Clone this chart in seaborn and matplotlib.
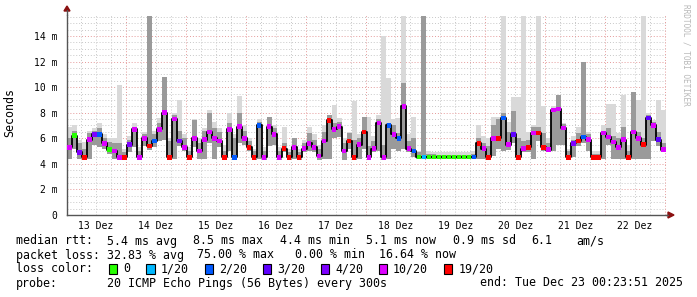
import numpy as np
import pandas as pd
import matplotlib
matplotlib.use("Agg")
import matplotlib.pyplot as plt
import seaborn as sns
from matplotlib.patches import Rectangle

# ---------------- data (2-hour steps, 13 Dez 00:23:51 -> 23 Dez 00:23:51) ----------------
median = [
    5.3, 6.2, 4.9, 4.5, 5.9, 6.3, 6.3, 5.6, 5.1, 5.0,
    4.5, 4.5, 5.5, 6.7, 4.5, 6.0, 5.4, 5.8, 6.7, 8.0,
    4.5, 7.5, 5.8, 5.3, 4.5, 6.0, 5.0, 5.9, 6.5, 6.0,
    5.8, 4.5, 6.7, 4.5, 6.9, 6.0, 5.3, 4.5, 7.0, 4.5,
    6.9, 6.3, 4.5, 5.2, 4.5, 5.3, 4.5, 5.2, 5.6, 5.3,
    4.6, 5.8, 7.4, 6.7, 6.9, 5.0, 5.8, 4.5, 5.5, 6.5,
    4.5, 5.2, 7.2, 4.5, 7.0, 6.3, 6.0, 8.5, 5.2, 5.0,
    4.55, 4.55, 4.55, 4.55, 4.55, 4.55, 4.55, 4.55, 4.55, 4.55,
    4.55, 4.55, 5.6, 5.2, 4.5, 6.0, 6.0, 7.6, 5.5, 6.3,
    4.5, 5.2, 5.3, 6.4, 6.4, 5.3, 5.1, 8.2, 8.3, 6.8,
    4.5, 5.6, 5.8, 6.1, 5.9, 4.5, 4.5, 6.4, 6.1, 5.7,
    5.3, 5.9, 4.5, 6.5, 6.0, 5.5, 7.6, 7.0, 5.9, 5.1,
]
smoke_lo = [
    4.4, 5.2, 4.4, 4.3, 4.4, 5.5, 5.3, 5.2, 4.8, 4.4,
    4.3, 4.3, 4.9, 5.3, 4.3, 5.4, 5.1, 5.3, 5.8, 5.9,
    4.3, 4.4, 5.4, 5.0, 4.3, 5.3, 4.4, 4.4, 5.6, 4.4,
    5.3, 4.3, 5.0, 4.3, 5.6, 5.5, 5.0, 4.3, 4.4, 4.3,
    5.4, 5.5, 4.3, 4.9, 4.3, 4.4, 4.3, 4.9, 5.0, 4.9,
    4.3, 4.4, 4.4, 6.0, 6.1, 4.3, 5.2, 4.3, 4.4, 5.2,
    4.3, 4.9, 5.0, 4.3, 4.4, 5.2, 5.0, 5.2, 4.9, 4.5,
    4.4, 4.4, 4.4, 4.4, 4.4, 4.4, 4.4, 4.4, 4.4, 4.4,
    4.4, 4.4, 4.4, 4.4, 4.3, 4.6, 5.2, 5.0, 5.1, 5.6,
    4.3, 4.9, 4.9, 4.4, 5.8, 5.0, 4.9, 5.0, 5.5, 5.5,
    4.3, 4.5, 5.4, 5.6, 5.0, 4.3, 4.3, 4.4, 5.5, 4.4,
    4.4, 4.4, 4.3, 4.4, 4.4, 4.4, 4.4, 5.8, 5.4, 4.9,
]
smoke_hi = [
    6.0, 6.6, 5.6, 5.2, 6.4, 6.6, 6.8, 6.0, 5.7, 5.6,
    5.6, 4.9, 5.9, 6.9, 5.0, 6.3, 15.6, 6.3, 7.2, 10.8,
    5.8, 7.8, 6.6, 6.0, 5.0, 7.4, 5.6, 6.6, 8.0, 6.8,
    6.5, 5.0, 7.2, 6.0, 8.0, 6.6, 5.8, 5.0, 7.3, 5.0,
    7.7, 6.8, 5.0, 5.6, 4.9, 6.0, 4.9, 5.6, 6.4, 5.9,
    5.2, 6.5, 7.8, 7.2, 7.3, 5.6, 6.4, 5.9, 6.0, 7.7,
    5.4, 5.8, 7.5, 5.5, 7.2, 7.0, 6.4, 10.3, 5.8, 6.0,
    4.9, 15.6, 4.8, 4.8, 4.7, 4.7, 4.7, 4.7, 4.7, 4.7,
    4.7, 4.8, 6.0, 5.6, 5.4, 7.0, 7.5, 8.0, 6.5, 8.1,
    6.0, 5.8, 5.9, 6.9, 6.9, 6.4, 5.6, 8.4, 9.4, 7.1,
    5.0, 5.9, 6.4, 12.0, 6.3, 4.8, 4.8, 6.6, 6.8, 6.2,
    6.0, 6.9, 5.0, 9.6, 6.5, 6.0, 7.8, 7.3, 6.5, 5.6,
]
smoke_max = [
    6.9, 7.0, 5.9, 5.7, 6.6, 6.8, 7.2, 6.3, 6.0, 6.0,
    10.2, 5.2, 6.2, 7.2, 5.3, 6.5, 15.6, 6.6, 7.6, 10.8,
    6.0, 8.0, 9.0, 6.3, 5.3, 7.5, 6.0, 6.8, 8.2, 7.3,
    6.8, 5.5, 8.0, 6.3, 9.3, 7.0, 6.0, 5.2, 7.5, 5.3,
    7.7, 7.0, 5.3, 6.9, 5.2, 6.0, 5.2, 5.9, 6.9, 6.3,
    5.5, 7.0, 7.8, 8.6, 7.6, 6.0, 6.5, 8.9, 6.3, 7.7,
    7.7, 6.2, 7.8, 14.0, 10.7, 7.5, 7.6, 15.6, 6.3, 7.7,
    5.0, 15.6, 5.0, 4.9, 4.9, 4.9, 4.9, 4.9, 4.9, 4.9,
    4.9, 5.0, 7.0, 6.2, 6.0, 7.7, 7.7, 15.6, 7.3, 9.2,
    9.2, 15.6, 6.5, 7.0, 15.6, 8.5, 6.0, 8.5, 9.4, 7.2,
    5.2, 6.2, 6.9, 12.0, 6.5, 5.0, 5.0, 7.0, 8.7, 8.7,
    6.4, 9.4, 5.5, 9.6, 9.0, 15.6, 8.0, 7.4, 9.0, 8.2,
]
loss = [
    5, 0, 4, 6, 5, 4, 2, 5, 0, 5,
    5, 6, 4, 5, 5, 5, 6, 2, 5, 5,
    6, 5, 4, 5, 6, 5, 5, 5, 5, 5,
    5, 6, 5, 2, 5, 5, 6, 6, 2, 5,
    5, 5, 5, 6, 6, 5, 6, 5, 5, 5,
    5, 5, 6, 5, 5, 5, 6, 6, 5, 6,
    5, 5, 5, 5, 2, 5, 2, 5, 5, 2,
    0, 1, 0, 0, 0, 0, 0, 0, 0, 0,
    0, 2, 6, 5, 6, 5, 6, 2, 5, 3,
    6, 5, 6, 5, 6, 6, 5, 5, 5, 5,
    6, 4, 6, 2, 5, 6, 6, 5, 5, 5,
    5, 5, 6, 5, 5, 6, 3, 5, 3, 5,
]
loss_labels = ["0", "1/20", "2/20", "3/20", "4/20", "10/20", "19/20"]
loss_colors = ["#26ff00", "#00b8ff", "#0059ff", "#5e00ff", "#7e00ff", "#dd00ff", "#ff0000"]
day_labels = ["13 Dez", "14 Dez", "15 Dez", "16 Dez", "17 Dez",
              "18 Dez", "19 Dez", "20 Dez", "21 Dez", "22 Dez"]
ytick_vals = [0, 2, 4, 6, 8, 10, 12, 14]
ytick_labels = ["0", "2 m", "4 m", "6 m", "8 m", "10 m", "12 m", "14 m"]

# ---------------- figure ----------------
sns.set_theme(style="white")
plt.rcParams['font.family'] = ['DejaVu Sans Mono', 'DejaVu Sans']

W, H = 697, 297
fig = plt.figure(figsize=(W / 100, H / 100), dpi=100, facecolor="white")
L, R, T, B = 67, 666, 15, 215
ax = fig.add_axes([L / W, 1 - B / H, (R - L) / W, (B - T) / H])
ax.set_facecolor("white")

t0 = 23 / 60 + 51 / 3600          # hours after 13 Dez 00:00
step_h = 2.0
n = len(median)
edges = t0 + step_h * np.arange(n + 1)
mids = edges[:-1] + step_h / 2
ymax = 15.64

def ext(a):
    return np.r_[a, a[-1]]

df = pd.DataFrame({"t": edges, "median": ext(median)})
pts = pd.DataFrame({"t": mids, "median": median,
                    "loss": [loss_labels[i] for i in loss]})

# grid
for h in np.arange(6, 241, 6):
    if h % 24:
        ax.axvline(h, color="#c8c8c8", lw=0.7, ls=(0, (1, 2)), zorder=0.5)
for y in np.arange(0.5, ymax, 0.5):
    if y % 2:
        ax.axhline(y, color="#c8c8c8", lw=0.7, ls=(0, (1, 2)), zorder=0.5)
for h in np.arange(24, 241, 24):
    ax.axvline(h, color="#e59a9a", lw=0.7, ls=(0, (1, 2)), zorder=0.6)
for y in ytick_vals[1:]:
    ax.axhline(y, color="#e59a9a", lw=0.7, ls=(0, (1, 2)), zorder=0.6)

# smoke
ax.fill_between(edges, ext(smoke_lo), ext(smoke_max), step="post",
                color="#d9d9d9", lw=0, zorder=1)
ax.fill_between(edges, ext(smoke_lo), ext(smoke_hi), step="post",
                color="#9a9a9a", lw=0, zorder=1.1)

# median
sns.lineplot(data=df, x="t", y="median", drawstyle="steps-post",
             color="black", lw=1.3, ax=ax, zorder=3, sort=False, estimator=None)
sns.scatterplot(data=pts, x="t", y="median", hue="loss",
                palette=dict(zip(loss_labels, loss_colors)),
                marker="s", s=11, linewidth=0, legend=False, ax=ax, zorder=4)

ax.set_xlim(t0, t0 + 240)
ax.set_ylim(0, ymax)
ax.set_xlabel("")
ax.set_ylabel("")

ax.set_yticks(ytick_vals)
ax.set_yticklabels(ytick_labels, fontsize=7)
ax.set_xticks([12 + 24 * k for k in range(10)])
ax.set_xticklabels(day_labels, fontsize=7)
ax.tick_params(axis="y", length=2, width=0.8, pad=5, colors="black")
ax.tick_params(axis="x", length=0, pad=4, colors="black")

for s in ["top", "right"]:
    ax.spines[s].set_visible(False)
for s in ["left", "bottom"]:
    ax.spines[s].set_color("#555555")
    ax.spines[s].set_linewidth(1.0)

# axis arrows
fig.patches.append(plt.Polygon([[L / W - 3 / W, 1 - 11 / H], [L / W + 3 / W, 1 - 11 / H],
                                [L / W, 1 - 6 / H]], closed=True,
                               transform=fig.transFigure, color="#8a1010"))
fig.patches.append(plt.Polygon([[668 / W, 1 - 212 / H], [668 / W, 1 - 218 / H],
                                [674 / W, 1 - 215 / H]], closed=True,
                               transform=fig.transFigure, color="#8a1010"))
fig.add_artist(plt.Line2D([R / W, 668 / W], [1 - B / H, 1 - B / H],
                          color="#555555", lw=1.0, transform=fig.transFigure))
fig.add_artist(plt.Line2D([L / W, L / W], [1 - T / H, 1 - 10 / H],
                          color="#555555", lw=1.0, transform=fig.transFigure))

# y label and watermark
fig.text(10 / W, 1 - 113 / H, "Seconds", rotation=90, ha="center", va="center",
         fontsize=8.4, color="black")
fig.text(686 / W, 1 - 4 / H, "RRDTOOL / TOBI OETIKER", rotation=270, ha="center",
         va="top", fontsize=5.6, color="#b8b8b8")

# legend lines
def ftxt(x, y, s, **kw):
    fig.text(x / W, 1 - y / H, s, fontsize=8.4, color="black", va="center", **kw)

y1, y2, y3, y4 = 241, 255, 269, 283
ftxt(16, y1, "median rtt:")
for x, s in [(107, "5.4 ms avg"), (193, "8.5 ms max"), (280, "4.4 ms min"),
             (366, "5.1 ms now"), (453, "0.9 ms sd"), (531, "6.1"), (576, "am/s")]:
    ftxt(x, y1, s)
ftxt(16, y2, "packet loss:")
for x, s in [(107, "32.83 % avg"), (197, "75.00 % max"), (295, "0.00 % min"),
             (379, "16.64 % now")]:
    ftxt(x, y2, s)
ftxt(16, y3, "loss color:")
box_x = [108.5, 146, 204.5, 262.5, 320.5, 378.5, 444]
for bx, lab, col in zip(box_x, loss_labels, loss_colors):
    fig.patches.append(Rectangle((bx / W, 1 - (y3 + 5) / H), 8.5 / W, 10 / H,
                                 transform=fig.transFigure, facecolor=col,
                                 edgecolor="black", lw=0.8))
    ftxt(bx + 14.5, y3, lab)
ftxt(16, y4, "probe:")
ftxt(107, y4, "20 ICMP Echo Pings (56 Bytes) every 300s")
ftxt(683, y4, "end: Tue Dec 23 00:23:51 2025", ha="right")

fig.savefig("out.png", dpi=100, facecolor="white")
